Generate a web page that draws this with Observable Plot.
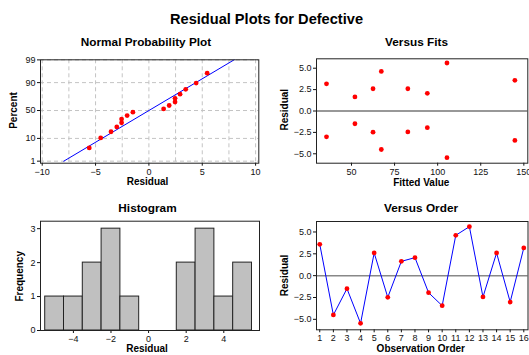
<!DOCTYPE html>
<html>
<head>
<meta charset="utf-8">
<script src="https://cdn.jsdelivr.net/npm/d3@7"></script>
<script src="https://cdn.jsdelivr.net/npm/@observablehq/plot@0.6"></script>
<style>
  html, body { margin: 0; padding: 0; background: #fff; }
  #page { position: relative; width: 529px; height: 355px; overflow: hidden; background: #fff; font-family: "Liberation Sans", Arial, sans-serif; }
  .panel { position: absolute; }
  #labels { position: absolute; left: 0; top: 0; pointer-events: none; }
</style>
</head>
<body>
<div id="page">
  <div class="panel" id="np" style="left:0px;top:50px"></div>
  <div class="panel" id="fits" style="left:265px;top:50px"></div>
  <div class="panel" id="hist" style="left:0px;top:215px"></div>
  <div class="panel" id="order" style="left:265px;top:215px"></div>
  <svg id="labels" width="529" height="355" font-family="Liberation Sans, Arial, sans-serif" font-weight="bold" fill="#000">
    <text x="266.5" y="24" font-size="14.6" text-anchor="middle">Residual Plots for Defective</text>
    <text x="146" y="45.6" font-size="11.8" text-anchor="middle">Normal Probability Plot</text>
    <text x="416.5" y="45.6" font-size="11.8" text-anchor="middle">Versus Fits</text>
    <text x="147.5" y="212.3" font-size="11.8" text-anchor="middle">Histogram</text>
    <text x="421" y="212.3" font-size="11.8" text-anchor="middle">Versus Order</text>
    <text x="147.5" y="185" font-size="10" text-anchor="middle">Residual</text>
    <text x="421.3" y="185.5" font-size="10" text-anchor="middle">Fitted Value</text>
    <text x="147" y="351.5" font-size="10" text-anchor="middle">Residual</text>
    <text x="420.8" y="351.5" font-size="10" text-anchor="middle">Observation Order</text>
    <text transform="translate(16.5,110.5) rotate(-90)" font-size="10" text-anchor="middle">Percent</text>
    <text transform="translate(287.5,109.7) rotate(-90)" font-size="10" text-anchor="middle">Residual</text>
    <text transform="translate(22.5,276.3) rotate(-90)" font-size="10" text-anchor="middle">Frequency</text>
    <text transform="translate(287.5,275.5) rotate(-90)" font-size="10" text-anchor="middle">Residual</text>
  </svg>
</div>
<script>
// ---------- data ----------
const observation = [1, 2, 3, 4, 5, 6, 7, 8, 9, 10, 11, 12, 13, 14, 15, 16];
const residuals = [3.59, -4.5, -1.49, -5.46, 2.6, -2.48, 1.64, 2.06, -1.95, -3.44, 4.62, 5.61, -2.44, 2.6, -3.02, 3.17];
const fittedValues = [144.8, 67.3, 52, 105.4, 62.5, 62.5, 52, 94, 94, 144.8, 67.3, 105.4, 82.7, 82.7, 35.5, 35.5];

// normal probability plot (sorted residuals and plotted percents)
const npResiduals = [-5.59, -4.52, -3.55, -3.01, -2.56, -2.56, -2.04, -1.5, 1.38, 1.9, 2.45, 2.45, 2.92, 3.45, 4.43, 5.46];
const npPercent = [4.3, 10.4, 16.5, 22.6, 28.7, 34.8, 40.9, 47.0, 53.0, 59.1, 65.2, 71.3, 77.4, 83.5, 89.6, 95.7];
const fitMean = 0;
const fitSd = 3.43;
const fitPercentEnds = [1, 99];
const percentTicks = [1, 10, 50, 90, 99];
const npXTicks = [-10, -5, 0, 5, 10];
const npXGrid = [-10, -7.5, -5, -2.5, 0, 2.5, 5, 7.5, 10];

// histogram
const binCenters = [-5, -4, -3, -2, -1, 0, 1, 2, 3, 4, 5];
const binCounts = [1, 1, 2, 3, 1, 0, 0, 2, 3, 1, 2];
const binWidth = 1;
const histXTicks = [-4, -2, 0, 2, 4];
const histYTicks = [0, 1, 2, 3];

const fitsXTicks = [50, 75, 100, 125, 150];
const residualTicks = [-5, -2.5, 0, 2.5, 5];

// ---------- helpers ----------
function probit(p) {
  const a = [-3.969683028665376e+01, 2.209460984245205e+02, -2.759285104469687e+02, 1.383577518672690e+02, -3.066479806614716e+01, 2.506628277459239e+00];
  const b = [-5.447609879822406e+01, 1.615858368580409e+02, -1.556989798598866e+02, 6.680131188771248e+01, -1.328068155288572e+01];
  const c = [-7.784894002430293e-03, -3.223964580411365e-01, -2.400758277161838e+00, -2.549732539343734e+00, 4.374664141464968e+00, 2.938163982698783e+00];
  const d = [7.784695709041462e-03, 3.224671290700398e-01, 2.445134137142996e+00, 3.754408661907416e+00];
  const pl = 0.02425, ph = 1 - pl;
  if (p < pl) { const q = Math.sqrt(-2 * Math.log(p)); return (((((c[0]*q+c[1])*q+c[2])*q+c[3])*q+c[4])*q+c[5]) / ((((d[0]*q+d[1])*q+d[2])*q+d[3])*q+1); }
  if (p <= ph) { const q = p - 0.5, r = q * q; return (((((a[0]*r+a[1])*r+a[2])*r+a[3])*r+a[4])*r+a[5])*q / (((((b[0]*r+b[1])*r+b[2])*r+b[3])*r+b[4])*r+1); }
  const q = Math.sqrt(-2 * Math.log(1 - p));
  return -(((((c[0]*q+c[1])*q+c[2])*q+c[3])*q+c[4])*q+c[5]) / ((((d[0]*q+d[1])*q+d[2])*q+d[3])*q+1);
}

const baseStyle = { fontFamily: "Liberation Sans, Arial, sans-serif", fontSize: "9px", color: "#111", background: "transparent", overflow: "visible" };
const axisCommon = { tickSize: 3, tickPadding: 2, label: null };
const red = "#ff0000", blue = "#0000ff";

// ---------- Normal probability plot ----------
const zTicks = percentTicks.map(p => probit(p / 100));
const zLabel = new Map(zTicks.map((z, i) => [z, String(percentTicks[i])]));
const npData = npResiduals.map((r, i) => ({ r, p: npPercent[i] }));
const np = Plot.plot({
  width: 265, height: 145,
  marginLeft: 40, marginRight: 6.7, marginTop: 9.3, marginBottom: 32.3,
  style: baseStyle,
  x: { domain: [-10.16, 10.3], ticks: npXTicks, ...axisCommon },
  y: { domain: [-2.42, 2.33], ticks: zTicks, tickFormat: z => zLabel.get(z), ...axisCommon },
  marks: [
    Plot.ruleX(npXGrid, { stroke: "#c4c4c4", strokeDasharray: "4,3" }),
    Plot.ruleY(zTicks, { stroke: "#c4c4c4", strokeDasharray: "4,3" }),
    Plot.line(fitPercentEnds, { x: p => fitMean + fitSd * probit(p / 100), y: p => probit(p / 100), stroke: blue, strokeWidth: 1 }),
    Plot.dot(npData, { x: "r", y: d => probit(d.p / 100), fill: red, r: 2.4 }),
    Plot.frame({ stroke: "#222" })
  ]
});
document.getElementById("np").appendChild(np);

// ---------- Versus fits ----------
const obsData = observation.map((o, i) => ({ o, r: residuals[i], f: fittedValues[i] }));
const fits = Plot.plot({
  width: 264, height: 145,
  marginLeft: 51, marginRight: 1.7, marginTop: 8.3, marginBottom: 32.3,
  style: baseStyle,
  x: { domain: [29.7, 152.3], ticks: fitsXTicks, ...axisCommon },
  y: { domain: [-6.1, 6.1], ticks: residualTicks, tickFormat: d3.format(".1f"), ...axisCommon },
  marks: [
    Plot.ruleY([0], { stroke: "#333", strokeWidth: 1.2 }),
    Plot.dot(obsData, { x: "f", y: "r", fill: red, r: 2.4 }),
    Plot.frame({ stroke: "#222" })
  ]
});
document.getElementById("fits").appendChild(fits);

// ---------- Histogram ----------
const histData = binCenters.map((c, i) => ({ c, n: binCounts[i] }));
const hist = Plot.plot({
  width: 265, height: 140,
  marginLeft: 40, marginRight: 6, marginTop: 5.7, marginBottom: 25,
  style: baseStyle,
  x: { domain: [-5.75, 5.9], ticks: histXTicks, ...axisCommon },
  y: { domain: [0, 3.22], ticks: histYTicks, tickFormat: d3.format("d"), ...axisCommon },
  marks: [
    Plot.rectY(histData, { x1: d => d.c - binWidth / 2, x2: d => d.c + binWidth / 2, y: "n", fill: "#c0c0c0", stroke: "#222", strokeWidth: 1 }),
    Plot.frame({ stroke: "#222" })
  ]
});
document.getElementById("hist").appendChild(hist);

// ---------- Versus order ----------
const order = Plot.plot({
  width: 264, height: 140,
  marginLeft: 51, marginRight: 1.5, marginTop: 6, marginBottom: 25.7,
  style: baseStyle,
  x: { domain: [0.76, 16.31], ticks: observation, tickFormat: d3.format("d"), ...axisCommon },
  y: { domain: [-6.2, 6.2], ticks: residualTicks, tickFormat: d3.format(".1f"), ...axisCommon },
  marks: [
    Plot.ruleY([0], { stroke: "#888", strokeWidth: 1.5 }),
    Plot.line(obsData, { x: "o", y: "r", stroke: blue, strokeWidth: 1 }),
    Plot.dot(obsData, { x: "o", y: "r", fill: red, r: 2.4 }),
    Plot.frame({ stroke: "#222" })
  ]
});
document.getElementById("order").appendChild(order);
</script>
</body>
</html>
